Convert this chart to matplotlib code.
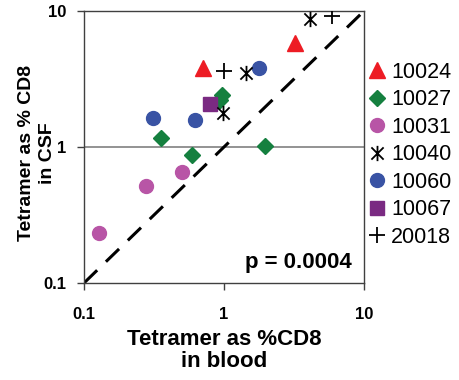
import numpy as np
import matplotlib.pyplot as plt
from matplotlib.path import Path

plt.rcParams['font.family'] = ['Liberation Sans', 'DejaVu Sans']

# patient data: (blood %, CSF %)
p10024_x = [0.71, 3.2]
p10024_y = [3.8, 5.8]
p10027_x = [0.355, 0.59, 1.96, 0.93, 0.97]
p10027_y = [1.16, 0.87, 1.01, 2.2, 2.41]
p10031_x = [0.128, 0.277, 0.50]
p10031_y = [0.232, 0.517, 0.66]
p10040_x = [4.1, 1.43, 0.98]
p10040_y = [8.7, 3.48, 1.77]
p10060_x = [1.78, 0.309, 0.62]
p10060_y = [3.83, 1.63, 1.58]
p10067_x = [0.794]
p10067_y = [2.07]
p20018_x = [1.0, 5.94]
p20018_y = [3.64, 9.2]

labels = ['10024', '10027', '10031', '10040', '10060', '10067', '20018']
ticks = [0.1, 1, 10]
tick_labels = ['0.1', '1', '10']

# asterisk like marker: X plus vertical bar
star = Path([(0, -1), (0, 1), (-0.8, -0.8), (0.8, 0.8), (-0.8, 0.8), (0.8, -0.8)],
            [Path.MOVETO, Path.LINETO, Path.MOVETO, Path.LINETO, Path.MOVETO, Path.LINETO])

fig = plt.figure(figsize=(4.59, 3.80), dpi=100)
ax = fig.add_axes([84/459, 1-283/380, 280/459, 272/380])
ax.set_xscale('log')
ax.set_yscale('log')
ax.set_xlim(0.1, 10)
ax.set_ylim(0.1, 10)

ax.axhline(1, color='#808080', lw=1.2, zorder=1)
ax.plot([0.1, 10], [0.1, 10], color='black', lw=2.2, dashes=(6, 4), zorder=2)

ax.plot(p10024_x, p10024_y, ls='none', marker='^', ms=11, color='#ED1C24', label=labels[0], zorder=3)
ax.plot(p10027_x, p10027_y, ls='none', marker='D', ms=8.5, color='#15803F', label=labels[1], zorder=3)
ax.plot(p10031_x, p10031_y, ls='none', marker='o', ms=10, color='#B855A6', label=labels[2], zorder=3)
ax.plot(p10040_x, p10040_y, ls='none', marker=star, ms=11, mew=1.3, color='black', label=labels[3], zorder=4)
ax.plot(p10060_x, p10060_y, ls='none', marker='o', ms=10, color='#3953A4', label=labels[4], zorder=3)
ax.plot(p10067_x, p10067_y, ls='none', marker='s', ms=10, color='#7A2A82', label=labels[5], zorder=3)
ax.plot(p20018_x, p20018_y, ls='none', marker='+', ms=12, mew=1.3, color='black', label=labels[6], zorder=4)

ax.minorticks_off()
ax.set_xticks(ticks)
ax.set_xticklabels(tick_labels, fontsize=12, fontweight='bold')
ax.set_yticks(ticks)
ax.set_yticklabels(tick_labels, fontsize=12, fontweight='bold')
ax.tick_params(axis='x', length=5, width=1, color='#404040', pad=12)
ax.tick_params(axis='y', length=5, width=1, color='#404040', pad=8)
for s in ax.spines.values():
    s.set_color('#404040')
    s.set_linewidth(1)

ax.set_xlabel('Tetramer as %CD8\nin blood', fontsize=16, fontweight='bold', linespacing=1.05)
ax.xaxis.set_label_coords(0.5, -0.17)
ax.set_ylabel('Tetramer as % CD8\nin CSF', fontsize=14, fontweight='bold', linespacing=1.3)
ax.yaxis.set_label_coords(-0.1, 0.478)

ax.text(0.955, 0.035, 'p = 0.0004', transform=ax.transAxes, ha='right', va='bottom',
        fontsize=16, fontweight='bold')

leg = ax.legend(loc='upper left', bbox_to_anchor=(0.985, 0.845), frameon=False, fontsize=15.5,
                handlelength=0.8, handletextpad=0.25, labelspacing=0.3, borderaxespad=0)

fig.savefig('out.png', dpi=100)
